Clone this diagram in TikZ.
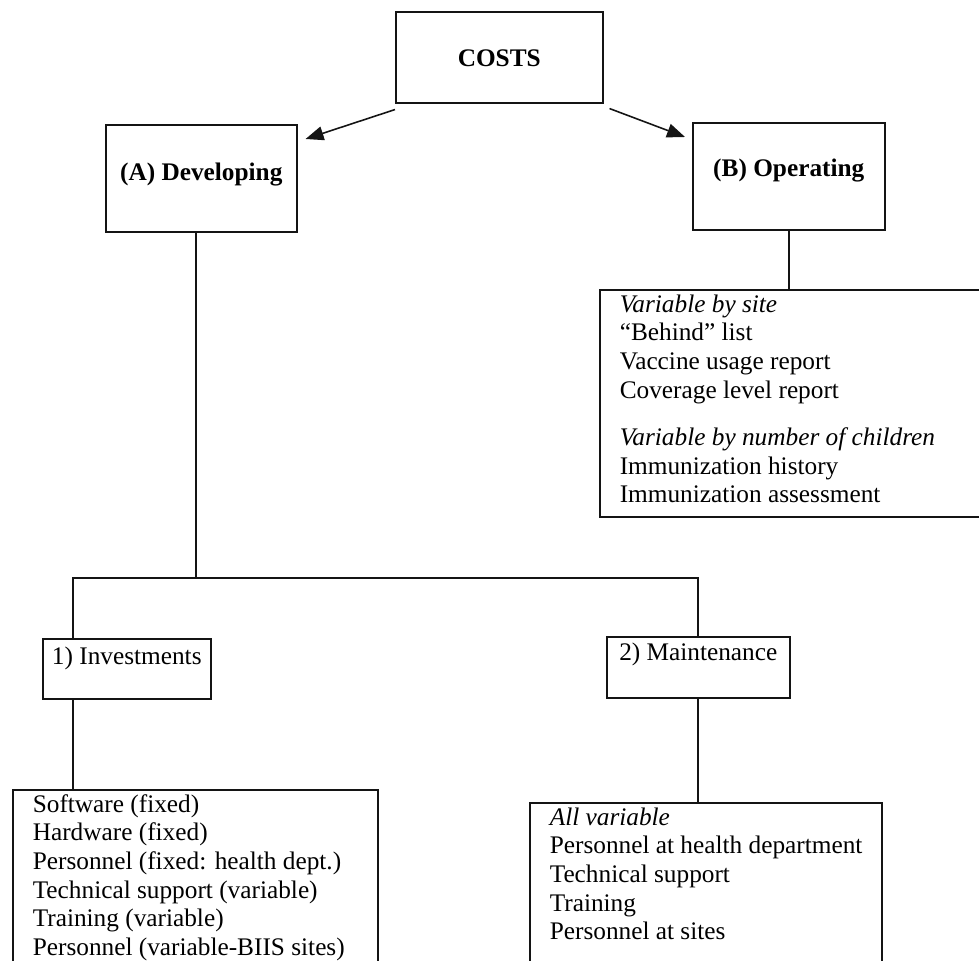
\documentclass[tikz,border=0pt]{standalone}
\usepackage{fontspec}
\setmainfont{Liberation Serif}
\usepackage{tikz}
\usetikzlibrary{arrows.meta}
\definecolor{ink}{RGB}{20,20,20}
\newcommand{\dfont}{\fontsize{14.4pt}{16.28pt}\selectfont}
\newcommand{\boxlist}[3]{\parbox[c][#1][t]{#2}{\raggedright\leftskip=0.2cm\strut#3}}
\tikzset{
  hbox/.style={draw=ink, line width=0.9pt, inner sep=0pt, anchor=north west, font=\dfont\bfseries},
  sbox/.style={draw=ink, line width=0.9pt, inner sep=0pt, anchor=north west, font=\dfont},
  lbox/.style={draw=ink, line width=0.9pt, inner xsep=0.2cm, inner ysep=0.05cm, anchor=north west, font=\dfont},
  arr/.style={-{Triangle[length=0.36cm, width=0.28cm]}, ink, line width=0.9pt},
  conn/.style={ink, line width=0.9pt},
}
\begin{document}
\begin{tikzpicture}[x=0.02cm, y=-0.02cm]
\useasboundingbox (0,0) rectangle (979,960);
\clip (0,0) rectangle (979,960);
% top level
\node[hbox, minimum width=4.14cm, text height=1.09cm, text depth=0.73cm] (costs) at (395,11) {COSTS};
\node[hbox, minimum width=3.82cm, text height=1.11cm, text depth=1.03cm] (dev) at (105,124) {(A) Developing};
\node[hbox, minimum width=3.84cm, text height=1.07cm, text depth=1.07cm] (opr) at (692,122) {(B) Operating};
\draw[arr] ([shift={(0cm,-0.12cm)}]costs.south west) -- ([shift={(0.16cm,-0.3cm)}]dev.north east);
\draw[arr] ([shift={(0.12cm,-0.1cm)}]costs.south east) -- ([shift={(-0.14cm,-0.3cm)}]opr.north west);
% operating
\node[lbox] (oplist) at (599,289) {\boxlist{4.44cm}{7.32cm}{\textit{Variable by site}\\“Behind” list\\Vaccine usage report\\Coverage level report\\[0.38cm]\textit{Variable by number of children}\\Immunization history\\Immunization assessment}};
\draw[conn] (opr.south) -- (oplist.north -| opr.south);
% developing
\node[sbox, minimum width=3.36cm, text height=0.51cm, text depth=0.69cm] (inv) at (42,638) {1) Investments};
\node[sbox, minimum width=3.66cm, text height=0.47cm, text depth=0.75cm] (mnt) at (606,636) {2) Maintenance};
\coordinate (lsplit) at (73,578);
\coordinate (msplit) at (196,578);
\draw[conn] (dev.south -| msplit) -- (msplit);
\draw[conn] (inv.north -| lsplit) -- (lsplit) -| (mnt.north);
\node[lbox] (invlist) at (12,789) {\boxlist{3.82cm}{6.90cm}{Software (fixed)\\Hardware (fixed)\\Personnel (fixed: health dept.)\\Technical support (variable)\\Training (variable)\\Personnel (variable-BIIS sites)}};
\node[lbox] (mntlist) at (529,802) {\boxlist{3.56cm}{6.64cm}{\textit{All variable}\\Personnel at health department\\Technical support\\Training\\Personnel at sites}};
\draw[conn] (inv.south -| lsplit) -- (invlist.north -| lsplit);
\draw[conn] (mnt.south) -- (mntlist.north -| mnt.south);
\end{tikzpicture}
\end{document}
